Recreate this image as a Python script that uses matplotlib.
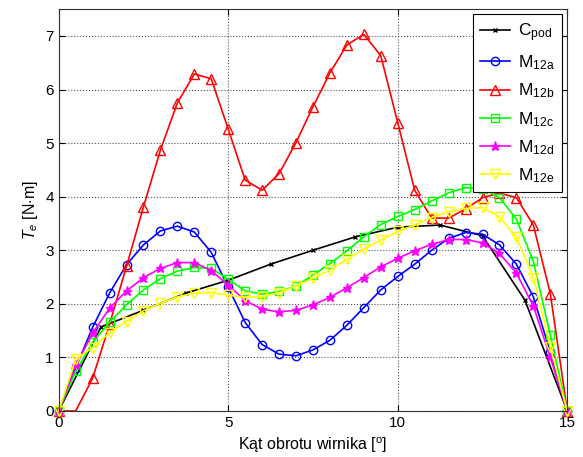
import numpy as np
import matplotlib
matplotlib.use("Agg")
import matplotlib.pyplot as plt

plt.rcParams['font.family'] = ['Liberation Sans', 'DejaVu Sans']
plt.rcParams['mathtext.fontset'] = 'custom'
plt.rcParams['mathtext.rm'] = 'Liberation Sans'
plt.rcParams['mathtext.it'] = 'Liberation Sans:italic'

# kąt obrotu wirnika [deg]
angle = [0, 0.5, 1, 1.5, 2, 2.5, 3, 3.5, 4, 4.5, 5, 5.5, 6, 6.5, 7, 7.5,
         8, 8.5, 9, 9.5, 10, 10.5, 11, 11.5, 12, 12.5, 13, 13.5, 14, 14.5, 15]
angle_pod = [0, 1.25, 2.5, 3.75, 5, 6.25, 7.5, 8.75, 10, 11.25, 12.5, 13.75, 15]

c_pod = [0, 1.57, 1.88, 2.20, 2.44, 2.74, 3.00, 3.25, 3.43, 3.47, 3.27, 2.07, 0]
m12a = [0, 0.80, 1.56, 2.20, 2.73, 3.10, 3.36, 3.45, 3.34, 2.96, 2.31,
        1.65, 1.24, 1.06, 1.03, 1.14, 1.32, 1.60, 1.93, 2.26, 2.51,
        2.74, 3.00, 3.22, 3.33, 3.30, 3.10, 2.74, 2.13, 1.10, 0]
m12b = [0, 0, 0.61, 1.62, 2.70, 3.81, 4.87, 5.75, 6.29, 6.20, 5.26,
        4.31, 4.12, 4.43, 5.01, 5.68, 6.31, 6.83, 7.03, 6.63, 5.38,
        4.12, 3.60, 3.60, 3.77, 3.98, 4.07, 3.98, 3.47, 2.19, 0]
m12c = [0, 0.74, 1.28, 1.66, 1.98, 2.26, 2.47, 2.61, 2.68, 2.66, 2.46,
        2.24, 2.18, 2.23, 2.33, 2.54, 2.75, 2.99, 3.25, 3.48, 3.63,
        3.76, 3.92, 4.07, 4.17, 4.15, 3.98, 3.58, 2.79, 1.42, 0]
m12d = [0, 0.85, 1.45, 1.92, 2.24, 2.49, 2.66, 2.77, 2.77, 2.62, 2.35,
        2.06, 1.90, 1.85, 1.88, 1.98, 2.12, 2.30, 2.49, 2.69, 2.85,
        2.99, 3.11, 3.20, 3.20, 3.14, 2.94, 2.57, 1.96, 1.00, 0]
m12e = [0, 0.97, 1.18, 1.46, 1.67, 1.87, 2.01, 2.13, 2.20, 2.21, 2.16,
        2.12, 2.13, 2.21, 2.33, 2.48, 2.63, 2.83, 3.02, 3.19, 3.35,
        3.47, 3.61, 3.72, 3.78, 3.80, 3.62, 3.24, 2.49, 1.19, 0]

fig = plt.figure(figsize=(5.83, 4.57), dpi=100)
ax = fig.add_axes([0.1007, 0.1007, 0.8723, 0.8793])

lw = 1.2
ax.plot(angle_pod, c_pod, color='k', marker='x', ms=3, lw=lw, label=r'C$_{\mathrm{pod}}$', clip_on=False)
ax.plot(angle, m12a, color='b', marker='o', ms=6, mfc='none', lw=lw, label=r'M$_{\mathrm{12a}}$', clip_on=False)
# marker at 0.5 deg lies under the axis in the original
ax.plot(angle, m12b, color='r', marker='^', ms=7, mfc='none', lw=lw, label=r'M$_{\mathrm{12b}}$',
        markevery=[0] + list(range(2, len(angle))), clip_on=False)
ax.plot(angle, m12c, color='#00ff00', marker='s', ms=6, mfc='none', lw=lw, label=r'M$_{\mathrm{12c}}$', clip_on=False)
ax.plot(angle, m12d, color='#ff00ff', marker='*', ms=6.5, lw=lw, label=r'M$_{\mathrm{12d}}$', clip_on=False)
ax.plot(angle, m12e, color='yellow', marker='v', ms=7, mfc='none', lw=lw, label=r'M$_{\mathrm{12e}}$', clip_on=False)

ax.set_xlim(0, 15)
ax.set_ylim(0, 7.5)
ax.set_xticks([0, 5, 10, 15])
ax.set_yticks(range(0, 8))
ax.grid(True, linestyle=':', color='#555555', linewidth=0.8)
ax.tick_params(direction='in', top=True, right=True, labelsize=11, length=4)
for s in ax.spines.values():
    s.set_color('#333333')

ax.set_xlabel(r'Kąt obrotu wirnika [$^{\mathrm{o}}$]', fontsize=11.5)
ax.set_ylabel(r'$T_e$ [N$\cdot$m]', fontsize=11.5)

leg = ax.legend(loc='upper right', fontsize=12.5, handlelength=1.7, handletextpad=0.5,
                labelspacing=0.55, borderpad=0.4,
                fancybox=False, framealpha=1, edgecolor='k', borderaxespad=0.3)
leg.get_frame().set_linewidth(0.8)

fig.savefig('out.png', dpi=100)
